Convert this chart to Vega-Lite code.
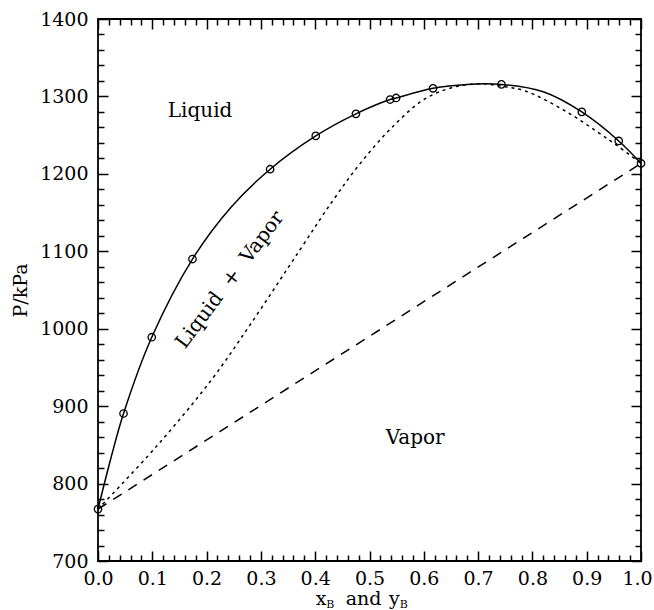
{
  "$schema": "https://vega.github.io/schema/vega-lite/v6.json",
  "width": 543,
  "height": 542,
  "autosize": "none",
  "padding": {"left": 98, "top": 19, "right": 13, "bottom": 49},
  "background": "white",
  "config": {
    "view": {"stroke": "black", "strokeWidth": 1.8},
    "axis": {
      "domain": false,
      "grid": false,
      "tickColor": "black",
      "tickWidth": 1.5,
      "labelFont": "DejaVu Serif",
      "labelFontSize": 19,
      "labelColor": "black",
      "labelFlush": false,
      "labelOverlap": false,
      "titleFont": "DejaVu Serif",
      "titleFontSize": 19,
      "titleFontWeight": "normal",
      "titleColor": "black"
    },
    "text": {"font": "DejaVu Serif", "fontSize": 20, "color": "black"}
  },
  "datasets": {
    "bubble": [
      {"xB": 0.0, "P": 767},
      {"xB": 0.0235, "P": 832},
      {"xB": 0.047, "P": 890.5},
      {"xB": 0.099, "P": 989},
      {"xB": 0.174, "P": 1090},
      {"xB": 0.245, "P": 1157},
      {"xB": 0.317, "P": 1206},
      {"xB": 0.401, "P": 1249},
      {"xB": 0.475, "P": 1277.5},
      {"xB": 0.538, "P": 1296},
      {"xB": 0.549, "P": 1298},
      {"xB": 0.617, "P": 1310.5},
      {"xB": 0.68, "P": 1315.5},
      {"xB": 0.743, "P": 1315.5},
      {"xB": 0.82, "P": 1306},
      {"xB": 0.891, "P": 1280},
      {"xB": 0.959, "P": 1242.5},
      {"xB": 1.0, "P": 1213.5}
    ],
    "circles": [
      {"xB": 0.0, "P": 767},
      {"xB": 0.047, "P": 890.5},
      {"xB": 0.099, "P": 989},
      {"xB": 0.174, "P": 1090},
      {"xB": 0.317, "P": 1206},
      {"xB": 0.401, "P": 1249},
      {"xB": 0.475, "P": 1277.5},
      {"xB": 0.538, "P": 1296},
      {"xB": 0.549, "P": 1298},
      {"xB": 0.617, "P": 1310.5},
      {"xB": 0.743, "P": 1315.5},
      {"xB": 0.891, "P": 1280},
      {"xB": 0.959, "P": 1242.5},
      {"xB": 1.0, "P": 1213.5}
    ],
    "dew": [
      {"yB": 0.0, "P": 767},
      {"yB": 0.107, "P": 847.5},
      {"yB": 0.209, "P": 934},
      {"yB": 0.28, "P": 1005},
      {"yB": 0.372, "P": 1102},
      {"yB": 0.433, "P": 1166},
      {"yB": 0.483, "P": 1213.5},
      {"yB": 0.54, "P": 1259},
      {"yB": 0.599, "P": 1295.5},
      {"yB": 0.65, "P": 1311},
      {"yB": 0.70, "P": 1316.5},
      {"yB": 0.745, "P": 1313},
      {"yB": 0.787, "P": 1307},
      {"yB": 0.861, "P": 1281},
      {"yB": 0.922, "P": 1253},
      {"yB": 0.955, "P": 1237},
      {"yB": 1.0, "P": 1213.5}
    ],
    "ideal": [
      {"xB": 0.0, "P": 767},
      {"xB": 1.0, "P": 1213.5}
    ],
    "regions": [
      {"label": "Liquid", "xB": 0.188, "P": 1281},
      {"label": "Vapor", "xB": 0.584, "P": 859}
    ],
    "diag": [
      {"label": "Liquid\u00a0\u00a0+\u00a0\u00a0Vapor", "xB": 0.243, "P": 1063}
    ],
    "xtitle": [
      {"t": "x", "xB": 0.411, "P": 651},
      {"t": "and", "xB": 0.489, "P": 651},
      {"t": "y", "xB": 0.546, "P": 651}
    ],
    "xsub": [
      {"t": "B", "xB": 0.428, "P": 643},
      {"t": "B", "xB": 0.563, "P": 643}
    ]
  },
  "resolve": {"axis": {"x": "independent", "y": "independent"}},
  "layer": [
    {
      "data": {"name": "bubble"},
      "mark": {"type": "line", "color": "black", "strokeWidth": 1.5, "interpolate": "catmull-rom"},
      "encoding": {
        "x": {"field": "xB", "type": "quantitative", "scale": {"domain": [0, 1], "nice": false, "zero": false},
          "axis": {"orient": "bottom", "values": [0, 0.1, 0.2, 0.3, 0.4, 0.5, 0.6, 0.7, 0.8, 0.9, 1.0], "format": ".1f", "tickSize": -10, "labelPadding": 18, "title": null,
            "labelOffset": {"condition": {"test": "datum.value == 1", "value": -4}, "value": 0}}},
        "y": {"field": "P", "type": "quantitative", "scale": {"domain": [700, 1400], "nice": false, "zero": false},
          "axis": {"orient": "left", "values": [700, 800, 900, 1000, 1100, 1200, 1300, 1400], "format": "d", "tickSize": -10, "labelPadding": 20, "title": "P/kPa", "titleX": -68}}
      }
    },
    {
      "data": {"name": "dew"},
      "mark": {"type": "line", "color": "black", "strokeWidth": 1.5, "strokeDash": [3, 4], "interpolate": "catmull-rom"},
      "encoding": {
        "x": {"field": "yB", "type": "quantitative",
          "axis": {"orient": "bottom", "values": [0.02, 0.04, 0.06, 0.08, 0.12, 0.14, 0.16, 0.18, 0.22, 0.24, 0.26, 0.28, 0.32, 0.34, 0.36, 0.38, 0.42, 0.44, 0.46, 0.48, 0.52, 0.54, 0.56, 0.58, 0.62, 0.64, 0.66, 0.68, 0.72, 0.74, 0.76, 0.78, 0.82, 0.84, 0.86, 0.88, 0.92, 0.94, 0.96, 0.98], "tickSize": -6, "labels": false, "title": null}},
        "y": {"field": "P", "type": "quantitative",
          "axis": {"orient": "left", "values": [720, 740, 760, 780, 820, 840, 860, 880, 920, 940, 960, 980, 1020, 1040, 1060, 1080, 1120, 1140, 1160, 1180, 1220, 1240, 1260, 1280, 1320, 1340, 1360, 1380], "tickSize": -6, "labels": false, "title": null}}
      }
    },
    {
      "data": {"name": "ideal"},
      "mark": {"type": "line", "color": "black", "strokeWidth": 1.5, "strokeDash": [10, 8]},
      "encoding": {
        "x": {"field": "xB", "type": "quantitative",
          "axis": {"orient": "top", "values": [0, 0.1, 0.2, 0.3, 0.4, 0.5, 0.6, 0.7, 0.8, 0.9, 1.0], "tickSize": -10, "labels": false, "title": null}},
        "y": {"field": "P", "type": "quantitative",
          "axis": {"orient": "right", "values": [700, 800, 900, 1000, 1100, 1200, 1300, 1400], "tickSize": -10, "labels": false, "title": null}}
      }
    },
    {
      "data": {"name": "circles"},
      "mark": {"type": "point", "shape": "circle", "filled": false, "color": "black", "size": 55, "strokeWidth": 1.3, "opacity": 1},
      "encoding": {
        "x": {"field": "xB", "type": "quantitative",
          "axis": {"orient": "top", "values": [0.02, 0.04, 0.06, 0.08, 0.12, 0.14, 0.16, 0.18, 0.22, 0.24, 0.26, 0.28, 0.32, 0.34, 0.36, 0.38, 0.42, 0.44, 0.46, 0.48, 0.52, 0.54, 0.56, 0.58, 0.62, 0.64, 0.66, 0.68, 0.72, 0.74, 0.76, 0.78, 0.82, 0.84, 0.86, 0.88, 0.92, 0.94, 0.96, 0.98], "tickSize": -6, "labels": false, "title": null}},
        "y": {"field": "P", "type": "quantitative",
          "axis": {"orient": "right", "values": [720, 740, 760, 780, 820, 840, 860, 880, 920, 940, 960, 980, 1020, 1040, 1060, 1080, 1120, 1140, 1160, 1180, 1220, 1240, 1260, 1280, 1320, 1340, 1360, 1380], "tickSize": -6, "labels": false, "title": null}}
      }
    },
    {
      "data": {"name": "regions"},
      "mark": {"type": "text", "align": "center", "baseline": "middle"},
      "encoding": {
        "x": {"field": "xB", "type": "quantitative", "axis": null},
        "y": {"field": "P", "type": "quantitative", "axis": null},
        "text": {"field": "label"}
      }
    },
    {
      "data": {"name": "diag"},
      "mark": {"type": "text", "align": "center", "baseline": "middle", "angle": -53},
      "encoding": {
        "x": {"field": "xB", "type": "quantitative", "axis": null},
        "y": {"field": "P", "type": "quantitative", "axis": null},
        "text": {"field": "label"}
      }
    },
    {
      "data": {"name": "xtitle"},
      "mark": {"type": "text", "align": "center", "baseline": "middle", "fontSize": 19},
      "encoding": {
        "x": {"field": "xB", "type": "quantitative", "axis": null},
        "y": {"field": "P", "type": "quantitative", "axis": null},
        "text": {"field": "t"}
      }
    },
    {
      "data": {"name": "xsub"},
      "mark": {"type": "text", "align": "center", "baseline": "middle", "fontSize": 11},
      "encoding": {
        "x": {"field": "xB", "type": "quantitative", "axis": null},
        "y": {"field": "P", "type": "quantitative", "axis": null},
        "text": {"field": "t"}
      }
    }
  ]
}
